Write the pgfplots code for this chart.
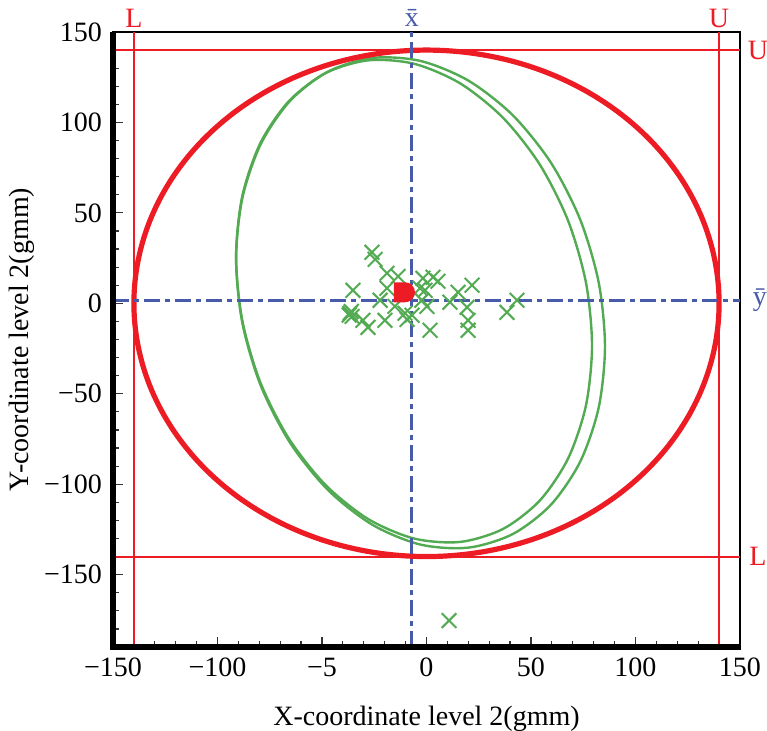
\documentclass[border=0pt]{standalone}
\usepackage{pgfplots}
\pgfplotsset{compat=1.18}
\usepackage{fontspec}
\setmainfont{Liberation Serif}
\definecolor{cred}{RGB}{237,28,36}
\definecolor{cgreen}{RGB}{82,170,82}
\definecolor{cblue}{RGB}{72,90,170}
\pgfdeclareplotmark{dmark}{%
  \pgfpathmoveto{\pgfpoint{-1.1\pgfplotmarksize}{-\pgfplotmarksize}}%
  \pgfpathlineto{\pgfpoint{-1.1\pgfplotmarksize}{\pgfplotmarksize}}%
  \pgfpathlineto{\pgfpoint{0pt}{\pgfplotmarksize}}%
  \pgfpatharc{90}{-90}{\pgfplotmarksize}%
  \pgfpathclose
  \pgfusepathqfill}
\begin{document}
\begin{tikzpicture}
\useasboundingbox (-56.5pt,-42pt) rectangle (327pt,323.5pt);
\begin{axis}[
  at={(0,0)}, anchor=south west,
  scale only axis, width=313.5pt, height=307.5pt,
  xmin=-150, xmax=150, ymin=-190, ymax=150,
  clip=false,
  font=\fontsize{14}{16}\selectfont,
  axis line style={line width=1.4pt, black},
  tick pos=left, tick align=inside,
  major tick length=5pt, minor tick length=3pt,
  tick style={line width=0.6pt, black!80},
  xtick={-150,-100,-50,0,50,100,150},
  xticklabels={−150,−100,−5,0,50,100,150},
  ytick={-150,-100,-50,0,50,100,150},
  yticklabels={−150,−100,−50,0,50,100,150},
  minor xtick={-140,-130,...,140},
  minor ytick={-190,-180,...,140},
  xticklabel style={yshift=-2pt},
  yticklabel style={xshift=-2pt},
  xlabel={X-coordinate level 2(gmm)},
  ylabel={Y-coordinate level 2(gmm)},
  xlabel style={at={(axis description cs:0.5,0)}, anchor=center, yshift=-36pt},
  ylabel style={at={(axis description cs:0,0.5)}, anchor=center, yshift=45.5pt},
  every axis plot/.append style={mark=none},
]
% control limit lines
\addplot[cred, line width=1pt] coordinates {(-140,-190) (-140,150)};
\addplot[cred, line width=1pt] coordinates {(140,-190) (140,150)};
\addplot[cred, line width=1pt] coordinates {(-150,140) (150,140)};
\addplot[cred, line width=1pt] coordinates {(-150,-140) (150,-140)};
% green ellipses
\addplot[cgreen, line width=1.2pt, smooth cycle] coordinates {
(85.40,-23.88) (82.39,11.54) (73.57,46.20) (59.55,77.73) (41.28,103.98) (19.99,123.16)
(-2.85,133.98) (-25.69,135.68) (-46.98,128.16) (-65.25,111.93) (-79.27,88.08) (-88.09,58.26)
(-91.10,24.48) (-88.09,-10.94) (-79.27,-45.60) (-65.25,-77.13) (-46.98,-103.38) (-25.69,-122.56)
(-2.85,-133.38) (19.99,-135.08) (41.28,-127.56) (59.55,-111.33) (73.57,-87.48) (82.39,-57.66)};
\addplot[cgreen, line width=1.2pt, smooth cycle] coordinates {
(79.20,-23.36) (76.30,11.44) (67.79,45.55) (54.26,76.62) (36.63,102.57) (16.09,121.60)
(-5.95,132.43) (-27.99,134.32) (-48.53,127.13) (-66.16,111.36) (-79.69,88.09) (-88.20,58.88)
(-91.10,25.76) (-88.20,-9.04) (-79.69,-43.15) (-66.16,-74.22) (-48.53,-100.17) (-27.99,-119.20)
(-5.95,-130.03) (16.09,-131.92) (36.63,-124.73) (54.26,-108.96) (67.79,-85.69) (76.30,-56.48)};
% red ellipse
\addplot[cred, line width=2.6pt, smooth cycle, tension=0.6] coordinates {
(140,0) (137.87,24.30) (131.56,47.88) (121.24,70) (107.24,89.99) (89.99,107.24) (70,121.24) (47.88,131.56) (24.30,137.87)
(0,140) (-24.30,137.87) (-47.88,131.56) (-70,121.24) (-89.99,107.24) (-107.24,89.99) (-121.24,70) (-131.56,47.88) (-137.87,24.30)
(-140,0) (-137.87,-24.30) (-131.56,-47.88) (-121.24,-70) (-107.24,-89.99) (-89.99,-107.24) (-70,-121.24) (-47.88,-131.56) (-24.30,-137.87)
(0,-140) (24.30,-137.87) (47.88,-131.56) (70,-121.24) (89.99,-107.24) (107.24,-89.99) (121.24,-70) (131.56,-47.88) (137.87,-24.30)};
% mean lines
\addplot[cblue, line width=1.4pt, dash pattern=on 8pt off 2.5pt on 2.5pt off 2.5pt] coordinates {(-7,-190) (-7,150)};
\addplot[cblue, line width=1.4pt, dash pattern=on 8pt off 2.5pt on 2.5pt off 2.5pt] coordinates {(-150,1.7) (150,1.7)};
% observations
\addplot[only marks, mark=x, mark size=5.2pt, cgreen, mark options={line width=1pt}] coordinates {
(-26.1,28.2) (-24.6,24.3) (-18.9,16.6) (-13.6,14.9) (-35.2,7.2) (-18.9,8.3) (-22.2,1.7)
(-36.6,-5.5) (-36.0,-4.5) (-37.0,-6.5) (-35.6,-7.2) (-30.4,-9.4) (-28.0,-13.3) (-19.9,-9.4)
(-15.1,-1.7) (-10.3,-5.5) (-9.3,-8.9) (-3.1,8.3) (-1.7,13.8) (3.1,14.4) (5.5,12.2)
(-2.2,1.7) (0.2,-1.7) (1.7,-14.9) (11.2,0.6) (15.1,6.1) (21.8,10.0) (19.4,-2.2)
(19.9,-9.4) (19.9,-14.9) (38.5,-5.0) (43.3,1.7) (-6.9,-6.6) (-0.7,7.2) (10.8,-175.4)};
% mean point
\addplot[only marks, mark=dmark, mark size=5pt, cred] coordinates {(-10.3,6.1)};
% line labels
\node[cred, anchor=center] at (axis cs:-140,150) [yshift=7pt] {L};
\node[cblue, anchor=center] at (axis cs:-7,150) [yshift=7pt] {\=x};
\node[cred, anchor=center] at (axis cs:140,150) [yshift=7pt] {U};
\node[cred, anchor=center] at (axis cs:150,140) [xshift=9pt] {U};
\node[cblue, anchor=center] at (axis cs:150,1.7) [xshift=10pt] {\=y};
\node[cred, anchor=center] at (axis cs:150,-140) [xshift=9pt] {L};
\end{axis}
\draw[black, line width=2.6pt] (0,-1.3pt) -- (0,307.5pt);
\draw[black, line width=2.8pt] (-1.3pt,0) -- (314.2pt,0);
\end{tikzpicture}
\end{document}
